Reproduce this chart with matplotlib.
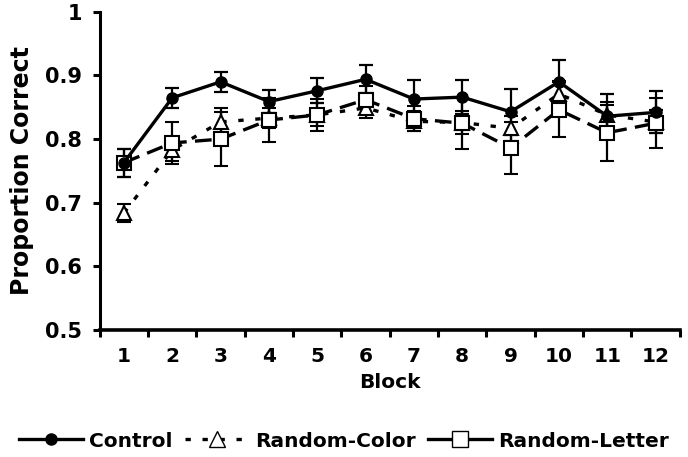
import matplotlib
matplotlib.use("Agg")
import matplotlib.pyplot as plt
from matplotlib.lines import Line2D
import numpy as np

blocks = ["1", "2", "3", "4", "5", "6", "7", "8", "9", "10", "11", "12"]
control = [0.763, 0.865, 0.890, 0.859, 0.876, 0.894, 0.863, 0.866, 0.843, 0.890, 0.836, 0.842]
control_err = [0.022, 0.016, 0.016, 0.018, 0.020, 0.022, 0.030, 0.027, 0.036, 0.035, 0.035, 0.033]
rand_color = [0.684, 0.783, 0.827, 0.833, 0.838, 0.849, 0.828, 0.826, 0.817, 0.871, 0.838, 0.827]
rand_color_err = [0.014, 0.018, 0.022, 0.016, 0.018, 0.016, 0.016, 0.018, 0.020, 0.020, 0.020, 0.018]
rand_letter = [0.763, 0.794, 0.800, 0.830, 0.838, 0.862, 0.832, 0.825, 0.786, 0.846, 0.810, 0.825]
rand_letter_err = [0.022, 0.033, 0.043, 0.035, 0.025, 0.022, 0.020, 0.040, 0.041, 0.043, 0.044, 0.039]

plt.rcParams['font.family'] = ['DejaVu Sans']
fig = plt.figure(figsize=(6.88, 4.57), dpi=100)
ax = fig.add_axes([0.145, 0.278, 0.843, 0.696])

x = np.arange(1, len(blocks) + 1)
common = dict(color='black', ecolor='black', elinewidth=1.6, capsize=5, capthick=1.6, linewidth=2.4)
short_dash = (0, (1.6, 3.5))
long_dash = (0, (5, 2.5))

ax.errorbar(x, rand_color, yerr=rand_color_err, fmt='^', linestyle=short_dash,
            markerfacecolor='white', markeredgecolor='black', markersize=10, markeredgewidth=1.5,
            label='Random-Color', **common)
ax.errorbar(x, rand_letter, yerr=rand_letter_err, fmt='s', linestyle=long_dash,
            markerfacecolor='white', markeredgecolor='black', markersize=10, markeredgewidth=1.5,
            label='Random-Letter', **common)
ax.errorbar(x, control, yerr=control_err, fmt='o', linestyle='-',
            markerfacecolor='black', markeredgecolor='black', markersize=8,
            label='Control', **common)

ax.set_xlim(0.5, len(blocks) + 0.5)
ax.set_ylim(0.5, 1.0)
ax.set_yticks([0.5, 0.6, 0.7, 0.8, 0.9, 1.0])
ax.set_yticklabels(['0.5', '0.6', '0.7', '0.8', '0.9', '1'])
ax.set_xticks(x)
ax.set_xticklabels(blocks)
ax.set_xticks(np.arange(0.5, len(blocks) + 1, 1.0), minor=True)
ax.tick_params(axis='x', which='major', length=0, pad=12, labelsize=14.5)
ax.tick_params(axis='x', which='minor', length=5, width=2.2, direction='out')
ax.tick_params(axis='y', which='major', length=5, width=2.2, direction='out', labelsize=15, pad=8)
for lab in ax.get_xticklabels() + ax.get_yticklabels():
    lab.set_fontweight('bold')

for s in ['top', 'right']:
    ax.spines[s].set_visible(False)
ax.spines['left'].set_linewidth(2.2)
ax.spines['bottom'].set_linewidth(2.6)

ax.set_xlabel('Block', fontsize=14.5, fontweight='bold', labelpad=5)
ax.set_ylabel('Proportion Correct', fontsize=17, fontweight='bold', labelpad=8)

h = [Line2D([], [], color='black', lw=2.4, linestyle='-', marker='o', markersize=8, markerfacecolor='black'),
     Line2D([], [], color='black', lw=2.4, linestyle=(0, (1.6, 3.5)), marker='^', markersize=11,
            markerfacecolor='white', markeredgewidth=1.0),
     Line2D([], [], color='black', lw=2.4, linestyle='-', marker='s', markersize=11,
            markerfacecolor='white', markeredgewidth=1.0)]
fig.legend(h, ['Control', 'Random-Color', 'Random-Letter'], loc='center', bbox_to_anchor=(0.5, 0.035),
           ncol=3, frameon=False, prop={'weight': 'bold', 'size': 14.5}, handlelength=3.2,
           columnspacing=0.6, handletextpad=0.3)

fig.savefig('out.png', dpi=100)
